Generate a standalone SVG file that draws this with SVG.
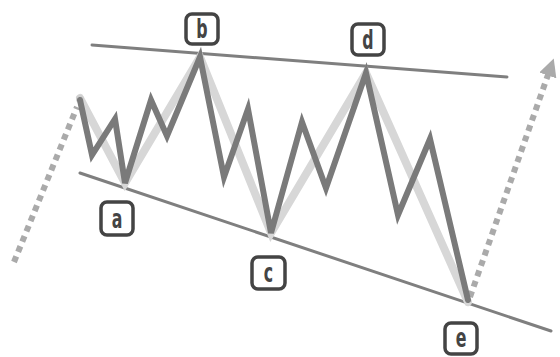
<svg xmlns="http://www.w3.org/2000/svg" width="560" height="357" viewBox="0 0 560 357">
<style>
.trend{stroke:#7f7f7f;stroke-width:3;stroke-linecap:round;fill:none}
.light{stroke:#d7d7d7;stroke-width:8;stroke-linejoin:miter;stroke-linecap:round;fill:none}
.dark{stroke:#7a7a7a;stroke-width:6;stroke-linejoin:miter;stroke-linecap:round;fill:none}
.dots{stroke:#aaaaaa;stroke-width:6;stroke-dasharray:6 5;fill:none}
.box{fill:#ffffff;stroke:#444444;stroke-width:3.5}
.lbl{font-family:"DejaVu Sans Condensed","DejaVu Sans",sans-serif;font-weight:bold;font-size:27px;fill:#444444;text-anchor:middle}
</style>
<defs>
<marker id="ah" viewBox="0 0 10 10" refX="2" refY="5" markerWidth="3" markerHeight="3" orient="auto" markerUnits="strokeWidth">
<path d="M0,0 L10,5 L0,10 z" fill="#aaaaaa"/>
</marker>
</defs>
<g id="connectors">
<line class="trend" x1="92" y1="45" x2="507" y2="77"/>
<line class="trend" x1="80" y1="173" x2="551" y2="331"/>
<line class="dots" x1="14" y1="262" x2="77" y2="107"/>
<line class="dots" x1="470" y1="297" x2="549" y2="72" marker-end="url(#ah)"/>
<polyline class="light" points="80,98 125,183 200,57 271,233 366,73 468,302"/>
<circle cx="80" cy="99" r="4" fill="#cfcfcf"/>
<polyline class="dark" points="80,100 92,155 115,119 125,183 151,100 167,136 200,57 224,177 248,109 271,233 302,122 326,188 366,73 398,215 430,139 468,300"/>
</g>
<g id="node-a"><rect class="box" x="101" y="202" width="32" height="33" rx="6"/><text class="lbl" transform="translate(117,228) scale(0.65,1)">a</text></g>
<g id="node-b"><rect class="box" x="186" y="14" width="32" height="30" rx="6"/><text class="lbl" transform="translate(202,38) scale(0.65,1)">b</text></g>
<g id="node-c"><rect class="box" x="252" y="257" width="33" height="32" rx="6"/><text class="lbl" transform="translate(268.5,282) scale(0.65,1)">c</text></g>
<g id="node-d"><rect class="box" x="352" y="24" width="32" height="31" rx="6"/><text class="lbl" transform="translate(368,49) scale(0.65,1)">d</text></g>
<g id="node-e"><rect class="box" x="445" y="323" width="32" height="31" rx="6"/><text class="lbl" transform="translate(461,347) scale(0.65,1)">e</text></g>
</svg>
